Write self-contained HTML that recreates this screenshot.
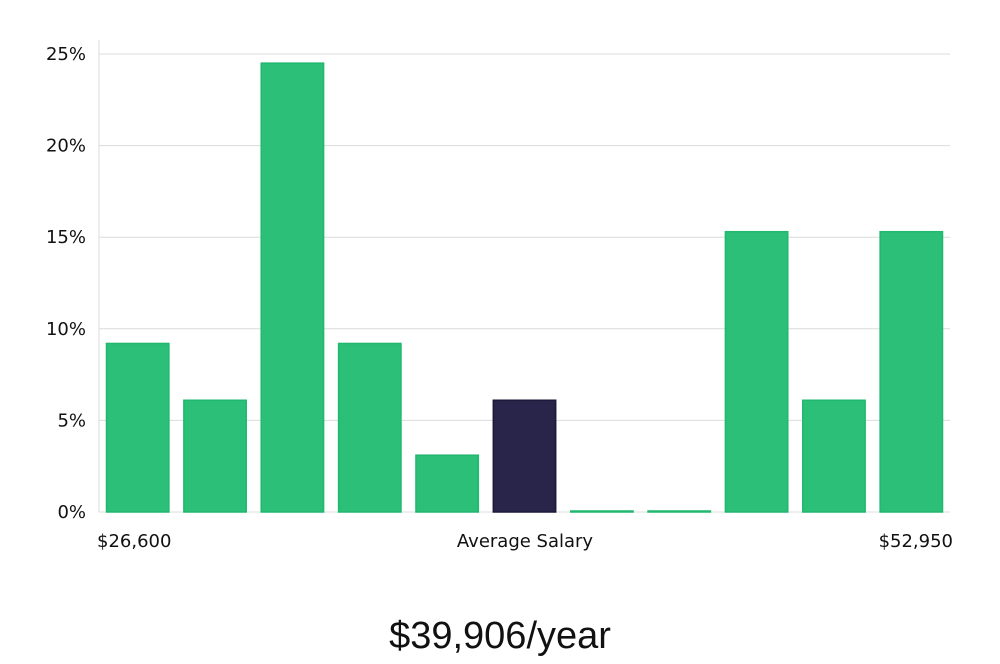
<!DOCTYPE html>
<html><head><meta charset="utf-8"><style>
body{margin:0;background:#fff;width:1000px;height:660px;overflow:hidden;font-family:"DejaVu Sans","Liberation Sans",sans-serif;}
</style></head><body>
<svg width="1000" height="660" xmlns="http://www.w3.org/2000/svg">
<g id="grid"></g><g id="bars"></g><g id="labels"></g>
<line x1="99" y1="40" x2="99" y2="512" stroke="#ddd" stroke-width="1"/>
<text x="97" y="547" font-size="18" fill="#111">$26,600</text>
<text x="525" y="547" font-size="18" fill="#111" text-anchor="middle">Average Salary</text>
<text x="953" y="547" font-size="18" fill="#111" text-anchor="end">$52,950</text>
<text x="500" y="648" font-size="38" fill="#111" text-anchor="middle" font-family="Liberation Sans Narrow, Liberation Sans, sans-serif">$39,906/year</text>
</svg>
<script>
const categories=["b1","b2","b3","b4","b5","b6","b7","b8","b9","b10","b11"];
const values=[9.2,6.1,24.5,9.2,3.1,6.1,0,0,15.3,6.1,15.3];
const highlight=[false,false,false,false,false,true,false,false,false,false,false];
const ticks=[0,5,10,15,20,25];
const tickLabels=["0%","5%","10%","15%","20%","25%"];
const NS="http://www.w3.org/2000/svg";
const y0=512,pxPer=(512-54)/25;
const y=v=>y0-v*pxPer;
const left=99,right=950,band=(right-left)/categories.length,pad=7.5;
const x=i=>left+i*band+pad;
const grid=document.getElementById('grid');
ticks.forEach((t,i)=>{
 const l=document.createElementNS(NS,'line');
 l.setAttribute('x1',left);l.setAttribute('x2',right);l.setAttribute('y1',y(t));l.setAttribute('y2',y(t));
 l.setAttribute('stroke','#dcdcdc');
 
 
 grid.appendChild(l);
 const tx=document.createElementNS(NS,'text');
 tx.setAttribute('x',86);tx.setAttribute('y',y(t)+6);tx.setAttribute('text-anchor','end');
 tx.setAttribute('font-size','18');tx.setAttribute('fill','#111');tx.textContent=tickLabels[i];
 
 
 grid.appendChild(tx);
});
const bars=document.getElementById('bars');
values.forEach((v,i)=>{
 const r=document.createElementNS(NS,'rect');
 const h=Math.max(v*pxPer,1);
 r.setAttribute('x',x(i));r.setAttribute('y',y0-h);r.setAttribute('width',band-2*pad);r.setAttribute('height',h);
 r.setAttribute('fill',highlight[i]?'#28244a':'#2bbf78');
 r.setAttribute('stroke',highlight[i]?'#1c1838':'#1fb86e');r.setAttribute('stroke-width','1.5');
 
 
 bars.appendChild(r);
});
</script>
</body></html>
